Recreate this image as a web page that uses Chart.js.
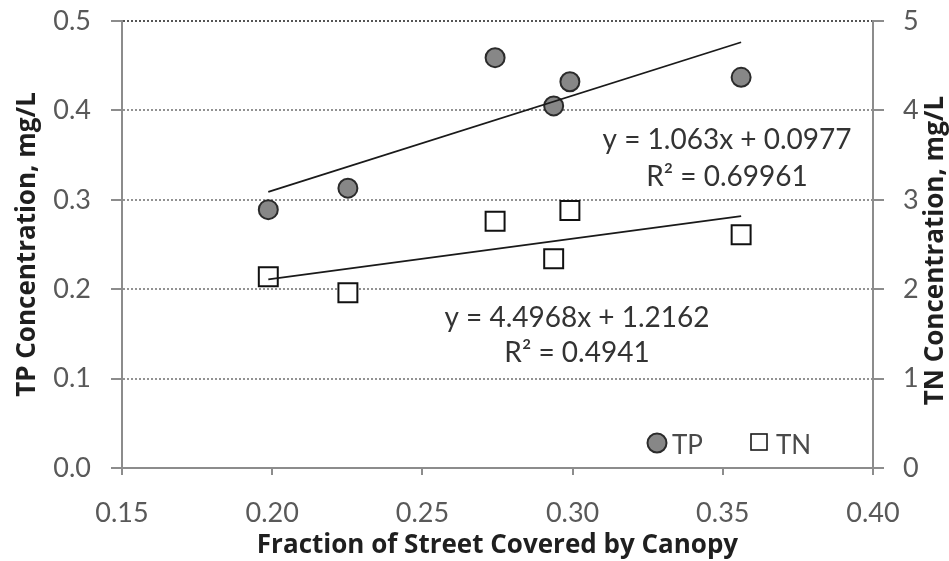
<!DOCTYPE html>
<html>
<head>
<meta charset="utf-8">
<script src="https://cdn.jsdelivr.net/npm/chart.js@4.4.0/dist/chart.umd.min.js"></script>
<style>
  html, body { margin: 0; padding: 0; background: #fff; }
  #wrap { width: 949px; height: 561px; position: relative; }
</style>
</head>
<body>
<div id="wrap"><canvas id="chart"></canvas></div>
<script>
const canopyFraction = [0.1987, 0.2252, 0.2742, 0.2937, 0.2991, 0.3561];
const tpValues = [0.289, 0.313, 0.459, 0.405, 0.432, 0.437];
const tnValues = [2.14, 1.96, 2.76, 2.34, 2.88, 2.61];

// trendline coefficients as printed on the chart: [slope, intercept]
const tpTrend = [1.063, 0.0977];
const tnTrend = [4.4968, 1.2162];
const tpEquation = ['y = 1.063x + 0.0977', 'R\u00B2 = 0.69961'];
const tnEquation = ['y = 4.4968x + 1.2162', 'R\u00B2 = 0.4941'];

const seriesNames = ['TP', 'TN'];
const xTitle = 'Fraction of Street Covered by Canopy';
const yLeftTitle = 'TP Concentration, mg/L';
const yRightTitle = 'TN Concentration, mg/L';

const FONT = 'Lato, "Open Sans", sans-serif';
const TITLE_FONT = '"Open Sans", Lato, sans-serif';
const TICK_COLOR = '#595959';
const AXIS_COLOR = '#8c8c8c';
const GRID_COLOR = '#929292';

const toPoints = (xs, ys) => xs.map((x, i) => ({ x, y: ys[i] }));

function trendPoints(coef) {
  const xMin = Math.min(...canopyFraction);
  const xMax = Math.max(...canopyFraction);
  return [xMin, xMax].map((x) => ({ x, y: coef[0] * x + coef[1] }));
}

// keep the plot box fixed: no automatic label padding
function fixBox(size) {
  return (scale) => {
    if (scale.isHorizontal()) scale.height = size;
    else scale.width = size;
    scale.paddingTop = 0;
    scale.paddingBottom = 0;
    scale.paddingLeft = 0;
    scale.paddingRight = 0;
  };
}

const overlay = {
  id: 'overlay',
  afterDraw(chart) {
    const { ctx, chartArea } = chart;
    ctx.save();

    // trendline equations
    ctx.fillStyle = '#333333';
    ctx.font = `28px ${FONT}`;
    ctx.textAlign = 'center';
    ctx.textBaseline = 'middle';
    ctx.fillText(tpEquation[0], 727, 140);
    ctx.fillText(tpEquation[1], 727, 177);
    ctx.fillText(tnEquation[0], 577, 318);
    ctx.fillText(tnEquation[1], 577, 353);

    // legend
    const ly = chartArea.bottom - 25;
    ctx.beginPath();
    ctx.arc(657, ly, 9.5, 0, Math.PI * 2);
    ctx.fillStyle = '#878787';
    ctx.fill();
    ctx.lineWidth = 2;
    ctx.strokeStyle = '#2b2b2b';
    ctx.stroke();
    ctx.fillStyle = '#fff';
    ctx.fillRect(751, ly - 9, 16, 16);
    ctx.lineWidth = 1.6;
    ctx.strokeStyle = '#1a1a1a';
    ctx.strokeRect(751, ly - 9, 16, 16);
    ctx.fillStyle = '#4a4a4a';
    ctx.font = `26px ${FONT}`;
    ctx.textAlign = 'left';
    ctx.fillText(seriesNames[0], 672, ly + 3);
    ctx.fillText(seriesNames[1], 776, ly + 3);

    // right axis title, reading bottom to top
    ctx.translate(936, (chartArea.top + chartArea.bottom) / 2 + 6);
    ctx.rotate(-Math.PI / 2);
    ctx.textAlign = 'center';
    ctx.fillStyle = '#1f1f1f';
    ctx.font = `bold 26px ${TITLE_FONT}`;
    ctx.fillText(yRightTitle, 0, 0);
    ctx.restore();
  }
};

new Chart(document.getElementById('chart'), {
  type: 'scatter',
  data: {
    datasets: [
      {
        type: 'line',
        data: trendPoints(tpTrend),
        yAxisID: 'y',
        borderColor: '#1a1a1a',
        borderWidth: 1.8,
        pointRadius: 0,
        fill: false,
        order: 0
      },
      {
        type: 'line',
        data: trendPoints(tnTrend),
        yAxisID: 'y1',
        borderColor: '#1a1a1a',
        borderWidth: 1.8,
        pointRadius: 0,
        fill: false,
        order: 0
      },
      {
        label: seriesNames[0],
        data: toPoints(canopyFraction, tpValues),
        yAxisID: 'y',
        pointStyle: 'circle',
        pointRadius: 9.5,
        backgroundColor: '#878787',
        borderColor: '#2b2b2b',
        borderWidth: 2,
        order: 1
      },
      {
        label: seriesNames[1],
        data: toPoints(canopyFraction, tnValues),
        yAxisID: 'y1',
        pointStyle: 'rect',
        pointRadius: 13.4,
        backgroundColor: '#ffffff',
        borderColor: '#111111',
        borderWidth: 2,
        order: 1
      }
    ]
  },
  options: {
    responsive: true,
    maintainAspectRatio: false,
    animation: false,
    layout: { padding: { top: 21, left: 0, right: 0, bottom: 0 } },
    plugins: {
      legend: { display: false },
      tooltip: { enabled: false }
    },
    scales: {
      x: {
        type: 'linear',
        min: 0.15,
        max: 0.40,
        afterFit: fixBox(93),
        ticks: {
          stepSize: 0.05,
          padding: 22,
          color: TICK_COLOR,
          font: { family: FONT, size: 27 },
          callback: (v) => Number(v).toFixed(2)
        },
        grid: {
          drawOnChartArea: false,
          drawTicks: true,
          tickLength: 7,
          tickColor: AXIS_COLOR,
          tickWidth: 2,
          lineWidth: 2
        },
        border: { color: AXIS_COLOR, width: 2 },
        title: {
          display: true,
          text: xTitle,
          color: '#1f1f1f',
          font: { family: TITLE_FONT, size: 26, weight: 'bold' },
          padding: { top: 0, bottom: 0 }
        }
      },
      y: {
        position: 'left',
        min: 0,
        max: 0.5,
        afterFit: fixBox(122),
        ticks: {
          stepSize: 0.1,
          padding: 20,
          color: TICK_COLOR,
          font: { family: FONT, size: 27 },
          callback: (v) => Number(v).toFixed(1)
        },
        grid: {
          color: (c) => {
            if (c.tick && c.tick.value === 0) return 'rgba(0,0,0,0)';
            if (c.tick && Math.abs(c.tick.value - 0.5) < 1e-9) return '#555555';
            return GRID_COLOR;
          },
          lineWidth: 2,
          tickLength: 11,
          tickColor: AXIS_COLOR,
          tickWidth: 2
        },
        border: { color: AXIS_COLOR, width: 2, dash: [2, 2] },
        title: {
          display: true,
          text: yLeftTitle,
          color: '#1f1f1f',
          font: { family: TITLE_FONT, size: 26, weight: 'bold' },
          padding: { top: 12, bottom: 0 }
        }
      },
      y1: {
        position: 'right',
        min: 0,
        max: 5,
        afterFit: fixBox(76),
        ticks: {
          stepSize: 1,
          padding: 19,
          color: TICK_COLOR,
          font: { family: FONT, size: 27 },
          callback: (v) => String(v)
        },
        grid: {
          drawOnChartArea: false,
          drawTicks: true,
          tickLength: 11,
          tickColor: AXIS_COLOR,
          tickWidth: 2,
          lineWidth: 2
        },
        border: { color: AXIS_COLOR, width: 2 }
      }
    }
  },
  plugins: [overlay]
});
</script>
</body>
</html>
